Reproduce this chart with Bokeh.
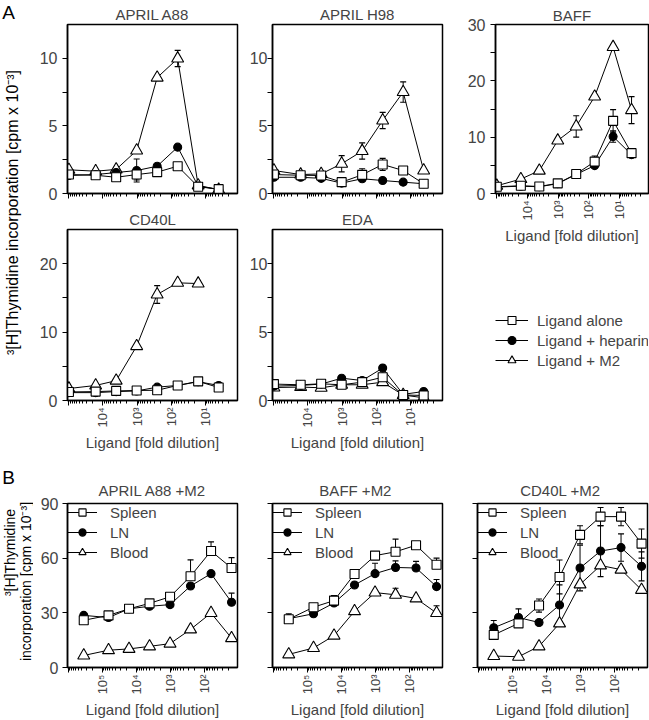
import math
from bokeh.plotting import figure
from bokeh.models import FixedTicker, Range1d, Legend, LegendItem, ColumnDataSource
from bokeh.layouts import row, column
from bokeh.embed import file_html
from bokeh.resources import INLINE
from bokeh.core.properties import value

NAN = float("nan")

# ---------------- data ----------------
dilution_A = [100000, 16384, 4096, 1024, 256, 64, 16, 4]
dilution_B = [350000, 65536, 16384, 4096, 1024, 256, 64, 16]

names_A = ["Ligand alone", "Ligand + heparin", "Ligand + M2"]
names_B = ["Spleen", "LN", "Blood"]

x_ticks_A = [100000, 10000, 1000, 100, 10]
x_labels_A = {100000: "", 10000: "10\u2074", 1000: "10\u00b3", 100: "10\u00b2", 10: "10\u00b9"}
x_ticks_B = [1000000, 100000, 10000, 1000, 100, 10]
x_labels_B = {1000000: "", 100000: "10\u2075", 10000: "10\u2074", 1000: "10\u00b3", 100: "10\u00b2", 10: ""}

# Panel A  (cpm x 10^-3), errors (0 = no bar)
a88_alone = [1.40, 1.35, 1.20, 1.40, 1.58, 2.02, 0.50, 0.32]
a88_hep = [1.33, 1.40, 1.55, 1.70, 2.02, 3.43, 0.55, 0.30]
a88_m2 = [1.75, 1.65, 1.78, 3.18, 8.57, 9.98, 0.60, 0.28]
a88_alone_err = [0, 0, 0, 0.4, 0, 0, 0, 0]
a88_hep_err = [0, 0, 0, 0.85, 0, 0, 0, 0]
a88_m2_err = [0, 0, 0, 0, 0, 0.6, 0, 0]

h98_alone = [1.40, 1.35, 1.33, 0.84, 1.38, 2.15, 1.70, 0.72]
h98_hep = [1.20, 1.20, 1.12, 0.77, 1.09, 0.96, 0.84, 0.72]
h98_m2 = [1.70, 1.40, 1.45, 2.20, 3.14, 5.40, 7.50, 1.70]
h98_alone_err = [0, 0, 0, 0, 0.45, 0.45, 0, 0]
h98_hep_err = [0, 0, 0, 0, 0, 0, 0, 0]
h98_m2_err = [0, 0, 0, 0.6, 0.6, 0.6, 0.75, 0]

baff_alone = [1.20, 1.37, 1.25, 1.80, 3.46, 5.66, 12.9, 7.16]
baff_hep = [1.15, 1.30, 1.20, 1.75, 3.40, 4.95, 10.1, 6.90]
baff_m2 = [1.37, 2.56, 4.05, 9.40, 11.9, 17.2, 26.0, 14.8]
baff_alone_err = [0, 0, 0, 0, 0, 1.0, 2.0, 0]
baff_hep_err = [0, 0, 0, 0, 0, 0, 1.0, 0]
baff_m2_err = [0, 0, 0, 0, 1.9, 0, 0, 2.4]

cd40l_alone = [1.25, 1.30, 1.40, 1.46, 1.50, 2.20, 2.80, 1.90]
cd40l_hep = [1.15, 1.15, 1.30, 1.40, 1.95, 2.20, 2.75, 2.20]
cd40l_m2 = [1.75, 2.20, 2.90, 7.95, 15.5, 17.2, 17.1, NAN]
cd40l_alone_err = [0, 0, 0, 0, 0, 0, 0, 0]
cd40l_hep_err = [0, 0, 0, 0, 0, 0, 0, 0]
cd40l_m2_err = [0, 0, 0, 0, 1.3, 0, 0, 0]

eda_alone = [1.20, 1.15, 1.22, 1.15, 1.34, 1.70, 0.40, 0.37]
eda_hep = [1.05, 1.10, 1.20, 1.63, 1.46, 2.37, 0.45, 0.66]
eda_m2 = [0.95, 0.98, 0.93, 1.15, 1.15, 1.34, 0.40, 0.20]
eda_alone_err = [0, 0, 0, 0, 0, 0, 0, 0]
eda_hep_err = [0, 0, 0, 0, 0, 0, 0, 0]
eda_m2_err = [0, 0, 0, 0, 0, 0, 0, 0]

# Panel B (cpm x 10^-3)
ba_spleen = [25.9, 28.6, 32.2, 35.2, 38.8, 50.1, 63.9, 54.6]
ba_ln = [28.6, 27.4, 32.2, 33.6, 34.5, 44.7, 51.5, 35.8]
ba_blood = [6.6, 9.5, 10.2, 11.6, 13.1, 20.9, 29.9, 16.1]
ba_spleen_err = [0, 0, 0, 0, 0, 9.0, 5.0, 5.7]
ba_ln_err = [0, 0, 0, 0, 0, 0, 0, 5.0]
ba_blood_err = [0, 0, 0, 0, 0, 0, 0, 0]

bb_spleen = [26.5, 33.1, 36.7, 51.3, 61.4, 63.5, 67.1, 56.4]
bb_ln = [26.8, 29.5, 35.4, 45.3, 51.5, 54.9, 54.6, 44.4]
bb_blood = [7.2, 10.7, 17.5, 30.9, 41.1, 39.9, 37.9, 29.9]
bb_spleen_err = [3.0, 0, 2.7, 0, 0, 7.0, 0, 3.6]
bb_ln_err = [0, 0, 0, 0, 5.7, 3.6, 3.6, 3.9]
bb_blood_err = [0, 0, 0, 0, 0, 3.6, 0, 4.0]

bc_spleen = [17.9, 24.2, 34.0, 49.7, 72.8, 82.8, 82.8, 68.0]
bc_ln = [21.8, 27.4, 24.7, 34.3, 54.6, 63.9, 65.8, 55.5]
bc_blood = [6.3, 5.9, 11.6, 24.2, 45.6, 56.0, 53.7, 42.6]
bc_spleen_err = [0, 0, 3.6, 9.3, 5.0, 5.0, 5.0, 8.0]
bc_ln_err = [4.0, 4.8, 0, 11.0, 12.5, 14.0, 7.5, 8.0]
bc_blood_err = [0, 0, 0, 0, 0, 0, 0, 0]

# ---------------- layout helpers ----------------
FONT = "Liberation Sans"


def log_minor(lo, hi):
    return [k * 10 ** e for e in range(lo, hi) for k in range(2, 10)]


STYLES = [  # marker, fill, size   (alone / heparin / M2 ; Spleen / LN / Blood)
    ("square", "white", 9),
    ("circle", "black", 8),
    ("triangle", "white", 12),
]


def panel(title, tstand, box, frame, xr, yr, yticks, yminor, ylab, ystand,
          xticks, xlabels, xminor, xlab, xtitle, series, dil, both, legend_names=None):
    cx0, cy0, cx1, cy1 = box
    fx0, fy0, fx1, fy1 = frame
    p = figure(width=cx1 - cx0, height=cy1 - cy0, title=title,
               x_axis_type="log", x_range=Range1d(*xr), y_range=Range1d(*yr),
               output_backend="svg", toolbar_location=None,
               min_border_left=fx0 - cx0, min_border_right=cx1 - fx1,
               min_border_top=fy0 - cy0, min_border_bottom=cy1 - fy1)
    p.grid.visible = False
    p.outline_line_color = "black"
    p.outline_line_width = 1.5
    p.title.align = "center"
    p.title.text_font = FONT
    p.title.text_font_size = "15px"
    p.title.text_font_style = "normal"
    p.title.standoff = tstand

    xa = p.xaxis[0]
    xa.ticker = FixedTicker(ticks=xticks, minor_ticks=xminor)
    xa.major_label_orientation = math.pi / 2
    xa.major_tick_out = 5
    xa.major_tick_in = 0
    xa.minor_tick_out = 3
    xa.minor_tick_in = 0
    xa.axis_line_width = 1.5
    xa.major_label_text_font = FONT
    xa.major_label_text_font_size = "13px"
    if xlab:
        xa.major_label_overrides = xlabels
        xa.major_label_standoff = 2
    else:
        xa.major_label_overrides = {t: "" for t in xticks}
        xa.major_label_standoff = 0
    if xtitle:
        xa.axis_label = xtitle
        xa.axis_label_text_font = FONT
        xa.axis_label_text_font_size = "15px"
        xa.axis_label_text_font_style = "normal"
        xa.axis_label_standoff = 3

    ya = p.yaxis[0]
    ya.ticker = FixedTicker(ticks=yticks, minor_ticks=yminor)
    ya.major_tick_out = 5
    ya.major_tick_in = 0
    ya.minor_tick_out = 5
    ya.minor_tick_in = 0
    ya.axis_line_width = 1.5
    ya.major_label_text_font = FONT
    ya.major_label_text_font_size = "16px"
    if ylab:
        ya.major_label_standoff = ystand
    else:
        ya.major_label_overrides = {t: "" for t in yticks}
        ya.major_label_standoff = 0

    lines, rend = [], {}
    for (vals, errs) in series:
        src = ColumnDataSource(dict(x=dil, y=vals))
        lines.append(p.line("x", "y", source=src, line_color="black", line_width=1))
        ex, lo, hi = [], [], []
        for xv, yv, e in zip(dil, vals, errs):
            if e:
                ex.append(xv)
                hi.append(yv + e)
                lo.append(yv - e if both else yv)
        if ex:
            p.segment(x0=ex, y0=lo, x1=ex, y1=hi, line_color="black", line_width=1)
            p.scatter(ex, hi, marker="dash", size=6, line_color="black", line_width=1.2)
            if both:
                p.scatter(ex, lo, marker="dash", size=6, line_color="black", line_width=1.2)
    for i in [2, 1, 0]:
        vals, errs = series[i]
        mk, fill, sz = STYLES[i]
        src = ColumnDataSource(dict(x=dil, y=vals))
        rend[i] = p.scatter("x", "y", source=src, marker=mk, size=sz, fill_color=fill,
                            line_color="black", line_width=1.1)
    if legend_names:
        items = [LegendItem(label=legend_names[i], renderers=[lines[i], rend[i]]) for i in range(3)]
        lg = Legend(items=items, location="top_left", margin=0, padding=2, spacing=2,
                    glyph_width=30, glyph_height=18, label_height=18, label_standoff=13,
                    label_text_font=FONT, label_text_font_size="15px",
                    border_line_color=None, background_fill_alpha=0)
        p.add_layout(lg)
    return p


def text_fig(box):
    cx0, cy0, cx1, cy1 = box
    w = cx1 - cx0
    h = cy1 - cy0
    p = figure(width=w, height=h, x_range=Range1d(0, w), y_range=Range1d(h, 0),
               min_border=0, toolbar_location=None, output_backend="svg",
               x_axis_location=None, y_axis_location=None, title=None)
    p.outline_line_color = None
    p.grid.visible = False
    return p


def put_text(p, box, rx, ry, txt, size, angle=0.0, baseline="middle"):
    cx0, cy0 = box[0], box[1]
    p.text(x=[rx - cx0], y=[ry - cy0], text=[txt], angle=angle,
           text_align="center", text_baseline=baseline, text_color="black",
           text_font=value(FONT), text_font_size=value(size))


LEFT = 33
xrA = (1.1e5, 1.12)
minorA = log_minor(0, 6)
xrB = (1.05e6, 10.7)
minorB = log_minor(1, 7)
XT = "Ligand [fold dilution]"

# ---------------- panel A ----------------
a88 = panel("APRIL A88", 4, (LEFT, 0, 245, 205), (67, 24, 237, 193), xrA, (0, 12.5),
            [0, 5, 10], [2.5, 7.5], True, 5, x_ticks_A, x_labels_A, minorA, False, None,
            [(a88_alone, a88_alone_err), (a88_hep, a88_hep_err), (a88_m2, a88_m2_err)],
            dilution_A, True)
cd40l = panel("CD40L", 4, (LEFT, 205, 245, 458), (67, 229, 237, 400), xrA, (0, 25),
              [0, 10, 20], [5, 15], True, 5, x_ticks_A, x_labels_A, minorA, True, XT,
              [(cd40l_alone, cd40l_alone_err), (cd40l_hep, cd40l_hep_err), (cd40l_m2, cd40l_m2_err)],
              dilution_A, True)
h98 = panel("APRIL H98", 4, (245, 0, 448, 205), (272, 24, 442, 193), xrA, (0, 12.5),
            [0, 5, 10], [2.5, 7.5], True, 0, x_ticks_A, x_labels_A, minorA, False, None,
            [(h98_alone, h98_alone_err), (h98_hep, h98_hep_err), (h98_m2, h98_m2_err)],
            dilution_A, True)
eda = panel("EDA", 4, (245, 205, 448, 458), (272, 229, 442, 400), xrA, (0, 12.5),
            [0, 5, 10], [2.5, 7.5], True, 0, x_ticks_A, x_labels_A, minorA, True, XT,
            [(eda_alone, eda_alone_err), (eda_hep, eda_hep_err), (eda_m2, eda_m2_err)],
            dilution_A, True)
baff = panel("BAFF", 2, (448, 0, 649, 255), (478, 24, 648, 193), xrA, (0, 30),
             [0, 10, 20, 30], [5, 15, 25], True, 5, x_ticks_A, x_labels_A, minorA, True, XT,
             [(baff_alone, baff_alone_err), (baff_hep, baff_hep_err), (baff_m2, baff_m2_err)],
             dilution_A, True)

# legend figure for panel A
legfig = figure(width=649 - 448, height=458 - 255,
                x_range=Range1d(0, 1), y_range=Range1d(0, 1),
                min_border_left=495 - 448, min_border_top=310 - 255,
                min_border_right=0, min_border_bottom=0,
                toolbar_location=None, output_backend="svg",
                x_axis_location=None, y_axis_location=None, title=None)
legfig.outline_line_color = None
legfig.grid.visible = False
items = []
for name, (mk, fill, sz) in zip(names_A, STYLES):
    lr = legfig.line(x=[NAN], y=[NAN], line_color="black", line_width=1)
    sr = legfig.scatter(x=[NAN], y=[NAN], marker=mk, size=sz, fill_color=fill,
                        line_color="black", line_width=1.1)
    items.append(LegendItem(label=name, renderers=[lr, sr]))
legfig.add_layout(Legend(items=items, location="top_left", margin=0, padding=0, spacing=0,
                         glyph_width=33, glyph_height=20, label_height=20, label_standoff=9,
                         label_text_font=FONT, label_text_font_size="15px",
                         border_line_color=None, background_fill_alpha=0))

# ---------------- panel B ----------------
b1 = panel("APRIL A88 +M2", 9, (LEFT, 458, 245, 720), (67, 503, 237, 672), xrB, (0, 90),
           [0, 30, 60, 90], [], True, 4, x_ticks_B, x_labels_B, minorB, True, XT,
           [(ba_spleen, ba_spleen_err), (ba_ln, ba_ln_err), (ba_blood, ba_blood_err)],
           dilution_B, False, names_B)
b2 = panel("BAFF  +M2", 9, (245, 458, 448, 720), (272, 503, 442, 672), xrB, (0, 90),
           [0, 30, 60, 90], [], False, 0, x_ticks_B, x_labels_B, minorB, True, XT,
           [(bb_spleen, bb_spleen_err), (bb_ln, bb_ln_err), (bb_blood, bb_blood_err)],
           dilution_B, False, names_B)
b3 = panel("CD40L  +M2", 9, (448, 458, 649, 720), (477, 503, 647, 672), xrB, (0, 90),
           [0, 30, 60, 90], [], False, 0, x_ticks_B, x_labels_B, minorB, True, XT,
           [(bc_spleen, bc_spleen_err), (bc_ln, bc_ln_err), (bc_blood, bc_blood_err)],
           dilution_B, True, names_B)

# ---------------- left strip: panel letters and y titles ----------------
boxL = (0, 0, LEFT, 720)
textL = text_fig(boxL)
put_text(textL, boxL, 8, 1, "A", "19px", baseline="top")
put_text(textL, boxL, 12, 212, "\u00b3[H]Thymidine incorporation [cpm x 10\u207b\u00b3]", "16px",
         math.pi / 2)
put_text(textL, boxL, 8, 466, "B", "19px", baseline="top")
put_text(textL, boxL, 9, 552, "\u00b3[H]Thymidine", "14px", math.pi / 2)
put_text(textL, boxL, 25, 581, "incorporation [cpm x 10\u207b\u00b3]", "14px", math.pi / 2)

rowA = row(column(a88, cd40l), column(h98, eda), column(baff, legfig))
rowB = row(b1, b2, b3)
layout = row(textL, column(rowA, rowB))

open("out.html", "w").write(file_html(layout, INLINE))
